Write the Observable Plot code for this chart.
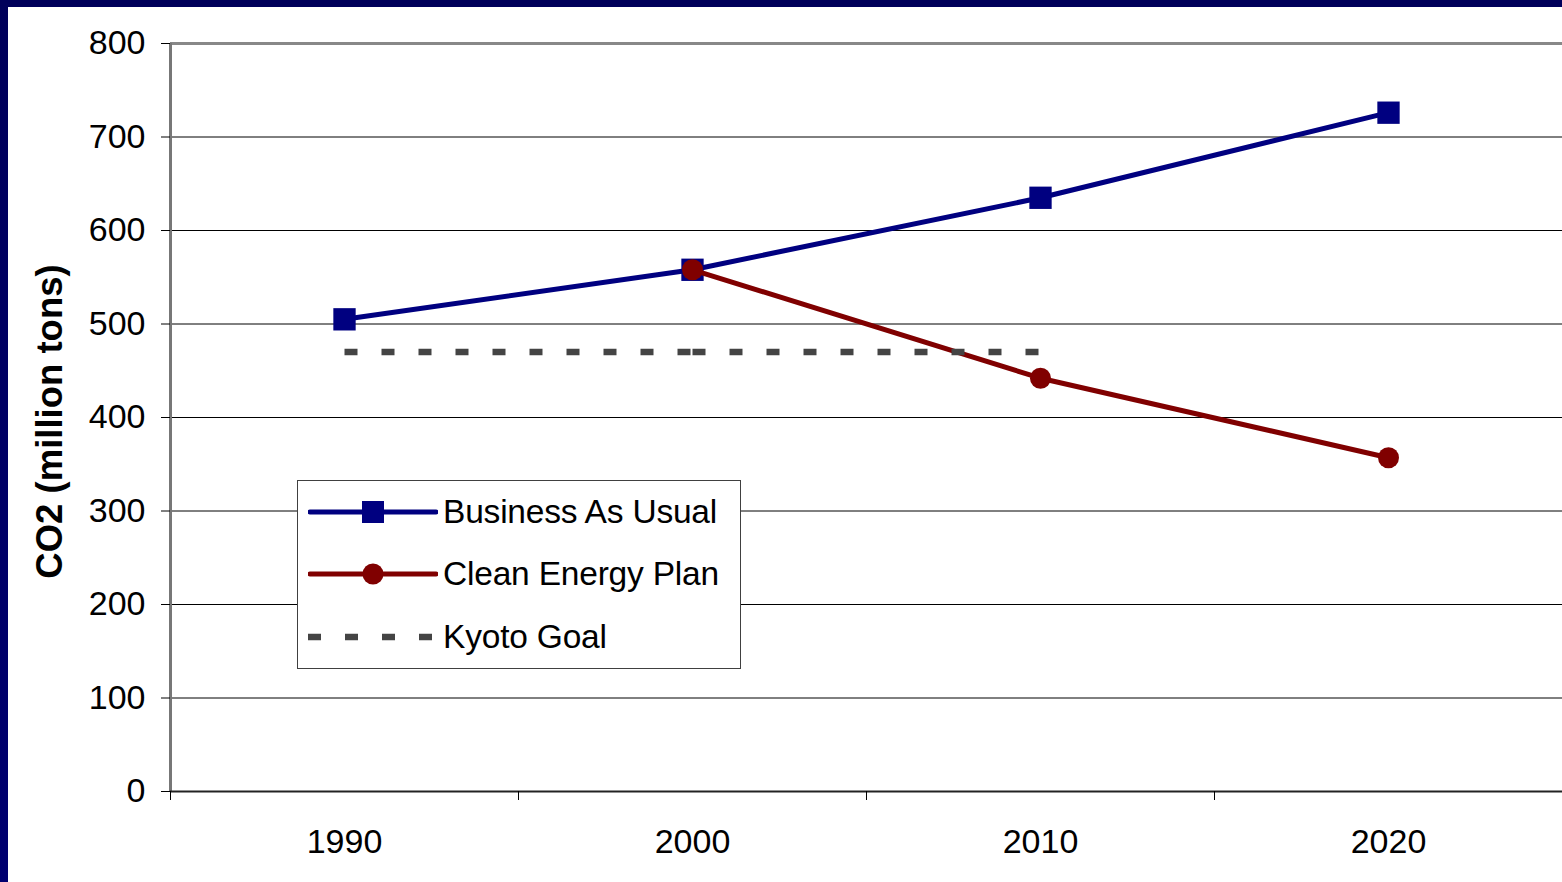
<!DOCTYPE html>
<html>
<head>
<meta charset="utf-8">
<script src="https://cdn.jsdelivr.net/npm/d3@7"></script>
<script src="https://cdn.jsdelivr.net/npm/@observablehq/plot@0.6"></script>
<style>
  html, body { margin: 0; padding: 0; }
  body { width: 1562px; height: 882px; background: linear-gradient(#00005a, #000070); overflow: hidden; font-family: "Liberation Sans", Arial, sans-serif; }
  #wrap { position: absolute; left: 8px; top: 7px; width: 1554px; height: 875px; background: #fff; }
  #legend { position: absolute; left: 289px; top: 473px; width: 442px; height: 187px; background: #fff; border: 1px solid #404040; }
  .row { position: absolute; left: 0; height: 40px; display: flex; align-items: center; }
  .row svg { margin-left: 10px; }
  .row span { margin-left: 5px; font-size: 33.5px; color: #000; white-space: nowrap; letter-spacing: -0.2px; }
</style>
</head>
<body>
<div id="wrap">
  <div id="chart"></div>
  <div id="legend"></div>
</div>
<script>
// ---- data ----
const years = [1990, 2000, 2010, 2020];
const businessAsUsual = [505, 558, 635, 726];
const cleanYears = [2000, 2010, 2020];
const cleanEnergyPlan = [558, 442, 357];
const kyotoYears = [1990, 2000, 2010];
const kyotoGoal = [470, 470, 470];
const yTicks = [0, 100, 200, 300, 400, 500, 600, 700, 800];
const xDomain = [1985, 2025];
const xBoundaries = [1985, 1995, 2005, 2015, 2025];
const seriesNames = ["Business As Usual", "Clean Energy Plan", "Kyoto Goal"];
const seriesColors = ["#000080", "#800000", "#444444"];
const yTitle = "CO2 (million tons)";

const bau = years.map((y, i) => ({year: y, value: businessAsUsual[i]}));
const clean = cleanYears.map((y, i) => ({year: y, value: cleanEnergyPlan[i]}));
// each segment between consecutive Kyoto points is dashed on its own
const kyoto = [];
for (let i = 0; i < kyotoYears.length - 1; i++) {
  kyoto.push({seg: i, year: kyotoYears[i], value: kyotoGoal[i]});
  kyoto.push({seg: i, year: kyotoYears[i + 1], value: kyotoGoal[i + 1]});
}

const chart = Plot.plot({
  width: 1554,
  height: 875,
  marginLeft: 162,
  marginTop: 36,
  marginRight: 0,
  marginBottom: 91,
  style: {fontFamily: "'Liberation Sans', Arial, sans-serif", fontSize: "34px", color: "#000", background: "transparent"},
  x: {type: "linear", domain: xDomain, label: null},
  y: {domain: [0, 800], label: null},
  marks: [
    Plot.gridY(yTicks, {stroke: "#000", strokeOpacity: 1, strokeWidth: 1}),
    Plot.ruleY([yTicks[yTicks.length - 1]], {stroke: "#888", strokeWidth: 3}),
    Plot.ruleX([xDomain[0]], {stroke: "#777", strokeWidth: 3}),
    Plot.ruleY([yTicks[0]], {stroke: "#222", strokeWidth: 2}),
    Plot.axisY({ticks: yTicks, tickSize: 9, tickPadding: 16, fontSize: 34, label: null, tickFormat: d => String(d), stroke: "#000"}),
    Plot.axisX({ticks: years, tickSize: 0, tickPadding: 37, fontSize: 34, label: null, tickFormat: d => String(d)}),
    Plot.axisX({ticks: xBoundaries, tickSize: 9, label: null, tickFormat: () => "", stroke: "#000"}),
    Plot.text([yTitle], {frameAnchor: "left", dx: -120, dy: 4, rotate: -90, textAnchor: "middle", fontWeight: "bold", fontSize: 36.5, fill: "#000"}),
    Plot.line(bau, {x: "year", y: "value", stroke: seriesColors[0], strokeWidth: 5}),
    Plot.dot(bau, {x: "year", y: "value", symbol: "square", r: 12.6, fill: seriesColors[0], stroke: "none"}),
    Plot.line(clean, {x: "year", y: "value", stroke: seriesColors[1], strokeWidth: 5}),
    Plot.dot(clean, {x: "year", y: "value", symbol: "circle", r: 10.5, fill: seriesColors[1], stroke: "none"}),
    Plot.line(kyoto, {x: "year", y: "value", z: "seg", stroke: seriesColors[2], strokeWidth: 6.5, strokeDasharray: "13,24", strokeLinecap: "butt"})
  ]
});
document.getElementById("chart").appendChild(chart);

// ---- legend ----
const legend = document.getElementById("legend");
const rowTops = [11, 73, 136];
seriesNames.forEach((name, i) => {
  const row = document.createElement("div");
  row.className = "row";
  row.style.top = rowTops[i] + "px";
  let sw = `<svg width="130" height="40" viewBox="0 0 130 40">`;
  if (i === 0) {
    sw += `<line x1="2" x2="128" y1="20" y2="20" stroke="${seriesColors[0]}" stroke-width="5" stroke-linecap="round"/>`;
    sw += `<rect x="54" y="9" width="22" height="22" fill="${seriesColors[0]}"/>`;
  } else if (i === 1) {
    sw += `<line x1="2" x2="128" y1="20" y2="20" stroke="${seriesColors[1]}" stroke-width="5" stroke-linecap="round"/>`;
    sw += `<circle cx="65" cy="20" r="10.5" fill="${seriesColors[1]}"/>`;
  } else {
    sw += `<line x1="0" x2="128" y1="20" y2="20" stroke="${seriesColors[2]}" stroke-width="6.5" stroke-dasharray="13,24"/>`;
  }
  sw += `</svg>`;
  row.innerHTML = sw + `<span>${name}</span>`;
  legend.appendChild(row);
});
</script>
</body>
</html>
